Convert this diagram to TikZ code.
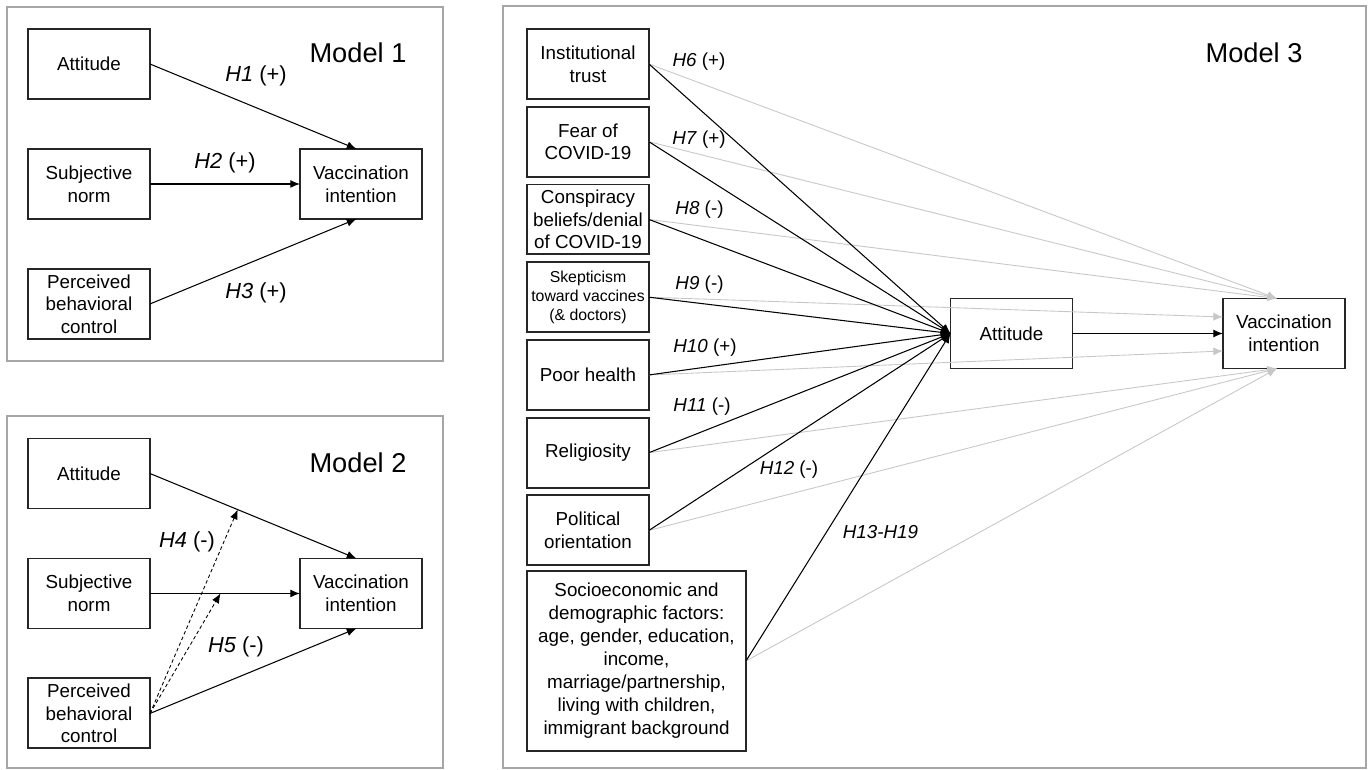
\documentclass[tikz,border=0pt]{standalone}
\usepackage{fontspec}
\setmainfont{Liberation Sans}
\usetikzlibrary{arrows.meta,positioning}

\begin{document}
\begin{tikzpicture}[x=0.02cm,y=-0.02cm,>={Latex[length=5.5pt,width=4.5pt]},
  box/.style={draw=black!85,line width=1.1pt,minimum width=2.44cm,minimum height=1.4cm,inner sep=1pt,outer sep=0pt,align=center,font=\fontsize{10.7}{12.9}\selectfont},
  frame/.style={draw=black!35,line width=1pt},
  title/.style={font=\fontsize{15.5}{18}\selectfont},
  hyp/.style={font=\fontsize{12.4}{14}\selectfont},
  hypsmall/.style={font=\fontsize{10.7}{12.9}\selectfont},
  link/.style={->,line width=0.6pt},
  faint/.style={->,line width=0.5pt,draw=black!22}]
  \useasboundingbox (0,0) rectangle (1370,770);
  \draw[frame] (7,7) rectangle (443,361);
  \draw[frame] (7,416) rectangle (443,768);
  \draw[frame] (503,6) rectangle (1366,768);

  % Model 1
  \node[box] (att1) at (89,64) {Attitude};
  \node[box,below=1cm of att1] (sn1) {Subjective\\norm};
  \node[box,below=1cm of sn1] (pbc1) {Perceived\\behavioral\\control};
  \node[box,right=3cm of sn1] (vi1) {Vaccination\\intention};
  \node[title] (m1) at (358,53) {Model 1};
  \draw[link] (att1.east) -- ([xshift=-0.09cm]vi1.north);
  \draw[link] (sn1) -- (vi1);
  \draw[link] (pbc1.east) -- ([xshift=-0.09cm]vi1.south);
  \node[hyp] (h1) at (256,76) {\textit{H1} (+)};
  \node[hyp] (h2) at (225,163) {\textit{H2} (+)};
  \node[hyp] (h3) at (256,293) {\textit{H3} (+)};

  % Model 2
  \node[box] (att2) at (89,473.5) {Attitude};
  \node[box,below=1cm of att2] (sn2) {Subjective\\norm};
  \node[box,below=1cm of sn2] (pbc2) {Perceived\\behavioral\\control};
  \node[box,right=3cm of sn2] (vi2) {Vaccination\\intention};
  \node[title] (m2) at (358,463) {Model 2};
  \draw[link] (att2.east) -- coordinate[pos=0.425] (m4) ([xshift=-0.09cm]vi2.north);
  \draw[link] (sn2) -- coordinate[pos=0.47] (m5) (vi2);
  \draw[link] (pbc2.east) -- ([xshift=-0.09cm]vi2.south);
  \draw[link,line width=0.5pt,dash pattern=on 2pt off 1.5pt] (pbc2.east) -- (m4);
  \draw[link,line width=0.5pt,dash pattern=on 2pt off 1.5pt] (pbc2.east) -- (m5);
  \node[hyp] (h4) at (187,542) {\textit{H4} (-)};
  \node[hyp] (h5) at (236,647) {\textit{H5} (-)};

  % Model 3
  \node[box] (trust) at (588,64) {Institutional\\trust};
  \node[box,below=0.155cm of trust] (fear) {Fear of\\COVID-19};
  \node[box,below=0.155cm of fear] (consp) {Conspiracy\\beliefs/denial\\of COVID-19};
  \node[box,below=0.155cm of consp,font=\fontsize{9}{10.8}\selectfont] (skep) {Skepticism\\toward vaccines\\(\& doctors)};
  \node[box,below=0.155cm of skep] (health) {Poor health};
  \node[box,below=0.155cm of health] (relig) {Religiosity};
  \node[box,below=0.155cm of relig] (polit) {Political\\orientation};
  \node[box,minimum width=4.38cm,minimum height=3.6cm,font=\fontsize{10.7}{13.1}\selectfont] (socio) at (636.5,661)
    {Socioeconomic and\\demographic factors:\\age, gender, education,\\income,\\marriage/partnership,\\living with children,\\immigrant background};
  \node[box] (att3) at (1011.5,333.5) {Attitude};
  \node[box] (vi3) at (1284,333.5) {Vaccination\\intention};
  \node[title] (m3) at (1254,53) {Model 3};

  \coordinate (vtop) at ([xshift=-0.14cm]vi3.north);
  \coordinate (vbot) at ([xshift=-0.14cm]vi3.south);
  \coordinate (vup) at ([yshift=0.33cm]vi3.west);
  \coordinate (vlow) at ([yshift=-0.35cm]vi3.west);
  \foreach \n/\t in {trust/vtop,fear/vtop,consp/vtop,skep/vup,health/vlow,relig/vbot,polit/vbot,socio/vbot}
    \draw[faint] (\n.east) -- (\t);
  \foreach \n in {trust,fear,consp,skep,health,relig,polit,socio}
    \draw[link] (\n.east) -- (att3.west);
  \draw[link] (att3) -- (vi3);

  \node[hypsmall] (h6) at (699,62) {\textit{H6} (+)};
  \node[hypsmall] (h7) at (699,140) {\textit{H7} (+)};
  \node[hypsmall] (h8) at (699.5,210) {\textit{H8} (-)};
  \node[hypsmall] (h9) at (699.5,285) {\textit{H9} (-)};
  \node[hypsmall] (h10) at (705,348) {\textit{H10} (+)};
  \node[hypsmall] (h11) at (702,407) {\textit{H11} (-)};
  \node[hypsmall] (h12) at (789,470) {\textit{H12} (-)};
  \node[hypsmall] (h13) at (880.5,532) {\textit{H13-H19}};
\end{tikzpicture}
\end{document}
